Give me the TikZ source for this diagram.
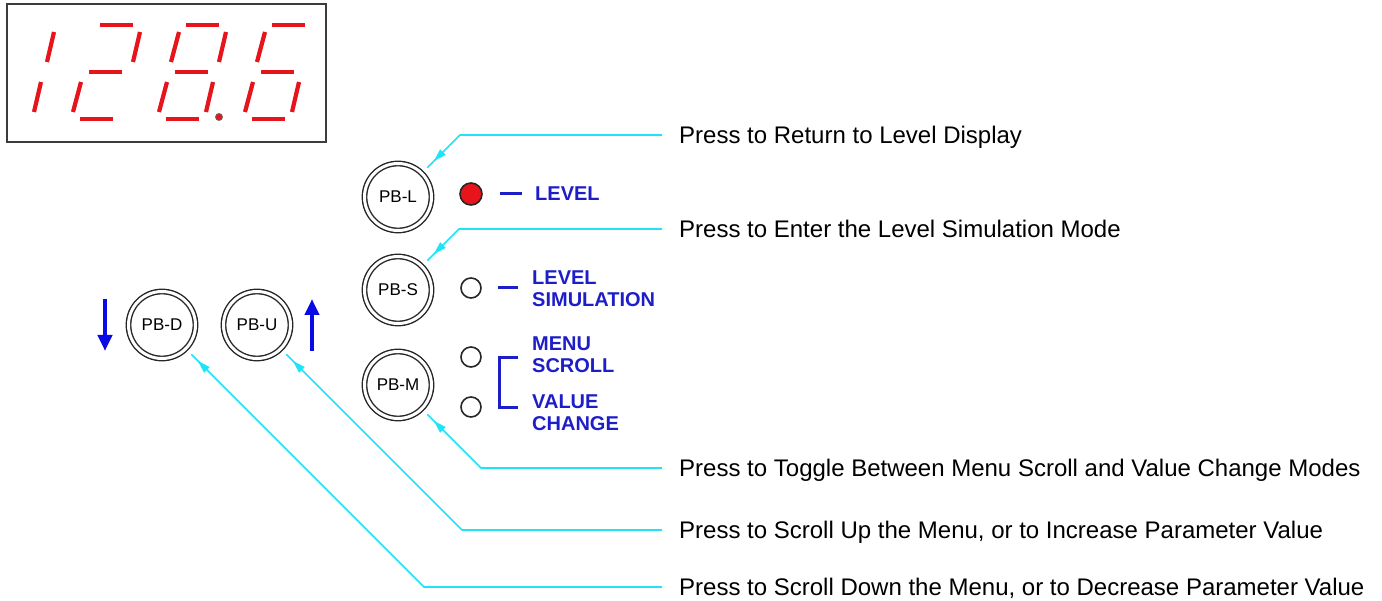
\documentclass[tikz,border=0pt]{standalone}
\usepackage{fontspec}
\setmainfont{Liberation Sans}
\usetikzlibrary{arrows.meta,decorations.markings,calc}
\definecolor{segred}{RGB}{232,20,28}
\definecolor{leadcyan}{RGB}{30,228,250}
\definecolor{lblue}{RGB}{30,30,200}
\definecolor{arrblue}{RGB}{10,10,230}
\definecolor{boxgray}{RGB}{60,60,60}
\begin{document}
\begin{tikzpicture}[x=1pt,y=-1pt,
  seg/.style={segred, line width=4.2pt},
  button/.style={circle, draw=black!85, double=white, double distance=3pt, line width=1.4pt,
    minimum size=67pt, inner sep=0pt, outer sep=8pt, font=\fontsize{17}{17}\selectfont},
  led/.style={circle, draw=black!85, line width=1.6pt, minimum size=20pt, inner sep=0pt},
  lbl/.style={lblue, font=\fontsize{20}{22}\selectfont\bfseries, align=left, inner sep=0pt, anchor=west},
  desc/.style={anchor=west, inner xsep=17pt, inner ysep=0pt, text height=17pt, text depth=0pt,
    font=\fontsize{24}{24}\selectfont},
  leader/.style={leadcyan, line width=1.6pt, postaction={decorate},
    decoration={markings, mark=at position -9pt with {\arrow{Triangle[length=13pt,width=7.5pt]}}}},
  dashline/.style={lblue, line width=3pt},
  bigarrow/.style={arrblue, line width=4pt, -{Triangle[length=16pt,width=14pt]}}
]
\useasboundingbox (0,0) rectangle (1382,601);
% display
\draw[boxgray, line width=2pt, fill=white] (7,4) rectangle (326,142);
% digit 1 (b,c)
\begin{scope}[xshift=-172pt]
  \draw[seg] (219,62)--(226,32);
  \draw[seg] (206,112)--(213,82);
\end{scope}
% digit 2 (a,b,g,e,d)
\begin{scope}[xshift=-86pt]
  \draw[seg] (186,25)--(219,25);
  \draw[seg] (219,62)--(226,32);
  \draw[seg] (175,72)--(208,72);
  \draw[seg] (159,112)--(167,82);
  \draw[seg] (166,119)--(199,119);
\end{scope}
% digit 8 with dp
\draw[seg] (186,25)--(219,25);
\draw[seg] (219,62)--(226,32);
\draw[seg] (206,112)--(213,82);
\draw[seg] (166,119)--(199,119);
\draw[seg] (159,112)--(167,82);
\draw[seg] (171,62)--(179,32);
\draw[seg] (175,72)--(208,72);
\fill[segred, draw=black!60, line width=0.8pt] (219,117) circle (3.5);
% digit 6 (a,f,g,e,c,d)
\begin{scope}[xshift=86pt]
  \draw[seg] (186,25)--(219,25);
  \draw[seg] (171,62)--(179,32);
  \draw[seg] (175,72)--(208,72);
  \draw[seg] (159,112)--(167,82);
  \draw[seg] (206,112)--(213,82);
  \draw[seg] (166,119)--(199,119);
\end{scope}
% buttons
\node[button] (pbl) at (398,197) {PB-L};
\node[button] (pbs) at (398,290) {PB-S};
\node[button] (pbm) at (398,385) {PB-M};
\node[button] (pbd) at (162,325) {PB-D};
\node[button] (pbu) at (257,325) {PB-U};
% LEDs
\node[led, fill=segred, minimum size=22pt] (ledl) at (471,194) {};
\node[led] (leds) at (471,288) {};
\node[led] (ledm) at (471,357) {};
\node[led] (ledv) at (471,407) {};
% labels
\node[lbl] (lvl) at (535,194) {LEVEL};
\node[lbl] (sim) at (532,289) {LEVEL\\SIMULATION};
\node[lbl] (mnu) at (532,355) {MENU\\SCROLL};
\node[lbl] (val) at (532,413) {VALUE\\CHANGE};
\draw[dashline, shorten <=17pt, shorten >=13pt] (ledl.east) -- (lvl.west |- ledl.east);
\draw[dashline, shorten <=16pt, shorten >=14pt] (leds.east) -- (sim.west |- leds.east);
\draw[dashline] ($(mnu.west)+(-14,3)$) -- ++(-19,0) |- ($(val.west)+(-14,-5)$);
% up/down arrows
\coordinate (dn1) at (105,299);
\coordinate (dn2) at (105,351);
\coordinate (up1) at (312,351);
\coordinate (up2) at (312,299);
\draw[bigarrow] (dn1) -- (dn2);
\draw[bigarrow] (up1) -- (up2);
% descriptions
\node[desc] (t1) at (662,135) {Press to Return to Level Display};
\node[desc] (t2) at (662,229) {Press to Enter the Level Simulation Mode};
\node[desc] (t3) at (662,468) {Press to Toggle Between Menu Scroll and Value Change Modes};
\node[desc] (t4) at (662,530) {Press to Scroll Up the Menu, or to Increase Parameter Value};
\node[desc] (t5) at (662,587) {Press to Scroll Down the Menu, or to Decrease Parameter Value};
% leaders
\draw[leader] let \p1=(t1.west), \p2=(pbl.45) in (\p1) -- ({\x2+abs(\y1-(\y2))},\y1) -- (\p2);
\draw[leader] let \p1=(t2.west), \p2=(pbs.45) in (\p1) -- ({\x2+abs(\y1-(\y2))},\y1) -- (\p2);
\draw[leader] let \p1=(t3.west), \p2=(pbm.-45) in (\p1) -- ({\x2+abs(\y1-(\y2))},\y1) -- (\p2);
\draw[leader] let \p1=(t4.west), \p2=(pbu.-45) in (\p1) -- ({\x2+abs(\y1-(\y2))},\y1) -- (\p2);
\draw[leader] let \p1=(t5.west), \p2=(pbd.-45) in (\p1) -- ({\x2+abs(\y1-(\y2))},\y1) -- (\p2);
\end{tikzpicture}
\end{document}
